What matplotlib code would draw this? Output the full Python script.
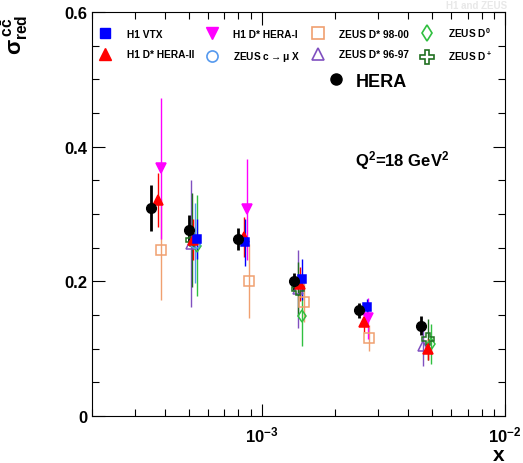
import matplotlib
matplotlib.use("Agg")
import matplotlib.pyplot as plt
import numpy as np
from matplotlib.lines import Line2D
from matplotlib.ticker import FuncFormatter, LogLocator, MultipleLocator, NullFormatter

plt.rcParams["font.family"] = ["Liberation Sans", "DejaVu Sans"]
plt.rcParams["font.weight"] = "bold"
plt.rcParams["mathtext.fontset"] = "custom"
plt.rcParams["mathtext.rm"] = "Liberation Sans:bold"
plt.rcParams["mathtext.bf"] = "Liberation Sans:bold"
plt.rcParams["mathtext.it"] = "Liberation Sans:bold"
plt.rcParams["mathtext.sf"] = "Liberation Sans:bold"

# HERA combined
hera_x = [3.5e-4, 5.0e-4, 8.0e-4, 1.35e-3, 2.5e-3, 4.5e-3]
hera_y = [0.309, 0.276, 0.263, 0.200, 0.157, 0.134]
hera_err = [0.034, 0.022, 0.016, 0.013, 0.011, 0.014]

# H1 VTX
vtx_x = [5.4e-4, 8.5e-4, 1.46e-3, 2.7e-3]
vtx_y = [0.263, 0.258, 0.203, 0.162]
vtx_err = [0.03, 0.035, 0.03, 0.012]

# H1 D* HERA-II
h1d2_x = [3.75e-4, 5.2e-4, 8.4e-4, 1.43e-3, 2.62e-3, 4.8e-3]
h1d2_y = [0.321, 0.262, 0.266, 0.196, 0.140, 0.099]
h1d2_err = [0.04, 0.03, 0.03, 0.025, 0.015, 0.015]

# H1 D* HERA-I
h1d1_x = [3.85e-4, 8.7e-4, 2.72e-3]
h1d1_y = [0.368, 0.307, 0.145]
h1d1_err = [0.105, 0.075, 0.03]

# ZEUS c -> mu X
zmu_x = [5.3e-4]
zmu_y = [0.257]
zmu_err = [0.06]

# ZEUS D* 98-00
zd98_x = [3.85e-4, 8.8e-4, 1.49e-3, 2.76e-3]
zd98_y = [0.247, 0.200, 0.170, 0.116]
zd98_err = [0.075, 0.055, 0.03, 0.02]

# ZEUS D* 96-97
zd96_x = [5.1e-4, 1.40e-3, 4.6e-3]
zd96_y = [0.256, 0.189, 0.104]
zd96_err = [0.094, 0.058, 0.03]

# ZEUS D0
zd0_x = [5.4e-4, 1.46e-3, 4.95e-3]
zd0_y = [0.253, 0.149, 0.107]
zd0_err = [0.075, 0.045, 0.03]

# ZEUS D+
zdp_x = [5.15e-4, 1.41e-3, 4.8e-3]
zdp_y = [0.262, 0.189, 0.114]
zdp_err = [0.07, 0.04, 0.03]

series = [
    ("ZEUS D* 98-00", zd98_x, zd98_y, zd98_err, "s", "#f0a070", "none", 7),
    ("ZEUS D* 96-97", zd96_x, zd96_y, zd96_err, "^", "#8050c0", "none", 7),
    ("ZEUS D0", zd0_x, zd0_y, zd0_err, "d", "#30c040", "none", 6),
    ("ZEUS D+", zdp_x, zdp_y, zdp_err, "P", "#207020", "none", 8),
    ("ZEUS c mu", zmu_x, zmu_y, zmu_err, "o", "#5599ee", "none", 7),
    ("H1 D* HERA-I", h1d1_x, h1d1_y, h1d1_err, "v", "#ff00ff", "#ff00ff", 6.5),
    ("H1 D* HERA-II", h1d2_x, h1d2_y, h1d2_err, "^", "#ff0000", "#ff0000", 6.5),
    ("H1 VTX", vtx_x, vtx_y, vtx_err, "s", "#0000ff", "#0000ff", 6),
]

fig = plt.figure(figsize=(5.23, 4.64), dpi=100)
ax = fig.add_axes([0.176, 0.101, 0.790, 0.871])

for name, xs, ys, es, mk, col, fc, ms in series:
    ax.errorbar(xs, ys, yerr=es, fmt=mk, color=col, mfc=fc, mec=col, ms=ms,
                mew=1.1, elinewidth=1.0, capsize=0, ecolor=col)

ax.errorbar(hera_x, hera_y, yerr=hera_err, fmt="o", color="black", ms=7,
            elinewidth=2, capsize=0)

ax.set_xscale("log")
ax.set_xlim(2e-4, 1e-2)
ax.set_ylim(0, 0.6)
ax.yaxis.set_major_locator(MultipleLocator(0.2))
ax.yaxis.set_minor_locator(MultipleLocator(0.05))
ax.yaxis.set_major_formatter(FuncFormatter(
    lambda v, p: "0" if abs(v) < 1e-9 else f"{v:.1f}"))
ax.xaxis.set_major_locator(LogLocator(base=10, numticks=10))
ax.xaxis.set_minor_locator(LogLocator(base=10, subs=np.arange(2, 10), numticks=20))
ax.xaxis.set_minor_formatter(NullFormatter())
ax.tick_params(which="both", direction="in", top=True, right=True, width=0.8,
               labelsize=12)
ax.tick_params(which="major", length=9)
ax.tick_params(which="minor", length=5)
ax.tick_params(axis="x", pad=6)
for lbl in ax.get_xticklabels() + ax.get_yticklabels():
    lbl.set_fontweight("bold")
for s in ax.spines.values():
    s.set_linewidth(0.8)

ax.set_xlabel("x", fontsize=15, fontweight="bold")
ax.xaxis.set_label_coords(0.985, -0.072)
ax.set_ylabel(r"$\sigma^{\,c\bar{c}}_{\rm red}$", fontsize=16, fontweight="bold",
              rotation=90)
ax.yaxis.set_label_coords(-0.15, 0.945)

ax.text(0.637, 0.62, r"Q$^2$=18 GeV$^2$", transform=ax.transAxes, fontsize=12,
        fontweight="bold")

handles = [
    Line2D([], [], ls="none", marker="s", color="#0000ff", ms=7),
    Line2D([], [], ls="none", marker="^", color="#ff0000", ms=8),
    Line2D([], [], ls="none", marker="v", color="#ff00ff", ms=8),
    Line2D([], [], ls="none", marker="o", mfc="none", mec="#5599ee", ms=8, mew=1.2),
    Line2D([], [], ls="none", marker="s", mfc="none", mec="#f0a070", ms=9, mew=1.2),
    Line2D([], [], ls="none", marker="^", mfc="none", mec="#8050c0", ms=9, mew=1.2),
    Line2D([], [], ls="none", marker="d", mfc="none", mec="#30c040", ms=8, mew=1.2),
    Line2D([], [], ls="none", marker="P", mfc="none", mec="#207020", ms=10, mew=1.2),
]
labels = ["H1 VTX", "H1 D* HERA-II", "H1 D* HERA-I", r"ZEUS c$\rightarrow\mu$ X",
          "ZEUS D* 98-00", "ZEUS D* 96-97", r"ZEUS D$^0$", r"ZEUS D$^+$"]
leg = ax.legend(handles, labels, ncol=4, loc="upper left",
                bbox_to_anchor=(0.0, 0.985), frameon=False,
                prop={"size": 7.3, "weight": "bold"}, handlelength=1.2,
                handletextpad=1.5, columnspacing=1.15, labelspacing=1.0,
                borderaxespad=0.3)
ax.add_artist(leg)
hera_h = [Line2D([], [], ls="none", marker="o", color="black", ms=8)]
ax.legend(hera_h, ["HERA"], loc="upper left", bbox_to_anchor=(0.53, 0.89),
          frameon=False, prop={"size": 13, "weight": "bold"},
          handletextpad=0.6, handlelength=1.0)

fig.text(0.97, 0.997, "H1 and ZEUS", ha="right", va="top", fontsize=7,
         fontweight="bold", color="#e8e8e8")

fig.savefig("out.png", dpi=100)
